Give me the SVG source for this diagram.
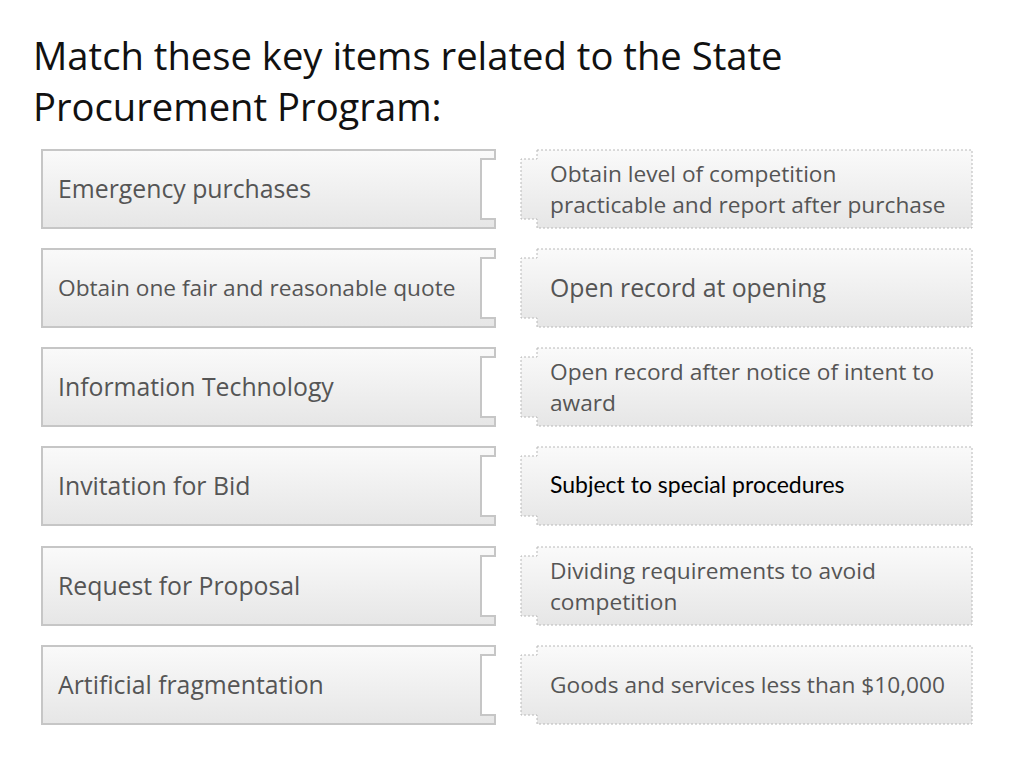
<svg xmlns="http://www.w3.org/2000/svg" width="1009" height="765" viewBox="0 0 1009 765">
<defs>
<linearGradient id="g" x1="0" y1="0" x2="0" y2="1">
<stop offset="0" stop-color="#fafafa"/>
<stop offset="1" stop-color="#e6e6e6"/>
</linearGradient>
<path id="lbox" d="M42,150 H495 V159 H481 V219 H495 V228 H42 Z"/>
<path id="rbox" d="M537,150 H972 V228 H537 V219 H521 V159 H537 Z"/>
</defs>
<style>
.title{font-family:"Open Sans","Noto Sans",sans-serif;font-size:38.2px;fill:#111}
.t{font-family:"Open Sans","Noto Sans",sans-serif;font-size:24.8px;fill:#555}
.s{font-size:22.7px}
.l{fill:url(#g);stroke:#c6c6c6;stroke-width:2}
.r{fill:url(#g);stroke:#b8b8b8;stroke-width:1;stroke-dasharray:2,2}
.blk{font-family:Lato,"Liberation Sans",sans-serif;font-size:23px;fill:#000}
</style>
<rect width="1009" height="765" fill="#fff"/>
<g id="title">
<text class="title" x="33" y="70">Match these key items related to the State</text>
<text class="title" x="33" y="121">Procurement Program:</text>
</g>
<g id="left-1"><use href="#lbox" class="l"/><text class="t" x="58" y="198">Emergency purchases</text></g>
<g id="left-2" transform="translate(0,99)"><use href="#lbox" class="l"/><text class="t s" x="58" y="197">Obtain one fair and reasonable quote</text></g>
<g id="left-3" transform="translate(0,198)"><use href="#lbox" class="l"/><text class="t" x="58" y="198">Information Technology</text></g>
<g id="left-4" transform="translate(0,297)"><use href="#lbox" class="l"/><text class="t" x="58" y="198">Invitation for Bid</text></g>
<g id="left-5" transform="translate(0,397)"><use href="#lbox" class="l"/><text class="t" x="58" y="198">Request for Proposal</text></g>
<g id="left-6" transform="translate(0,496)"><use href="#lbox" class="l"/><text class="t" x="58" y="198">Artificial fragmentation</text></g>
<g id="right-1"><use href="#rbox" class="r"/><text class="t s" x="550" y="182">Obtain level of competition</text><text class="t s" x="550" y="213">practicable and report after purchase</text></g>
<g id="right-2" transform="translate(0,99)"><use href="#rbox" class="r"/><text class="t" x="550" y="198">Open record at opening</text></g>
<g id="right-3" transform="translate(0,198)"><use href="#rbox" class="r"/><text class="t s" x="550" y="182">Open record after notice of intent to</text><text class="t s" x="550" y="213">award</text></g>
<g id="right-4" transform="translate(0,297)"><use href="#rbox" class="r"/><text class="blk" x="550" y="196">Subject to special procedures</text></g>
<g id="right-5" transform="translate(0,397)"><use href="#rbox" class="r"/><text class="t s" x="550" y="182">Dividing requirements to avoid</text><text class="t s" x="550" y="213">competition</text></g>
<g id="right-6" transform="translate(0,496)"><use href="#rbox" class="r"/><text class="t s" x="550" y="197">Goods and services less than $10,000</text></g>
</svg>
